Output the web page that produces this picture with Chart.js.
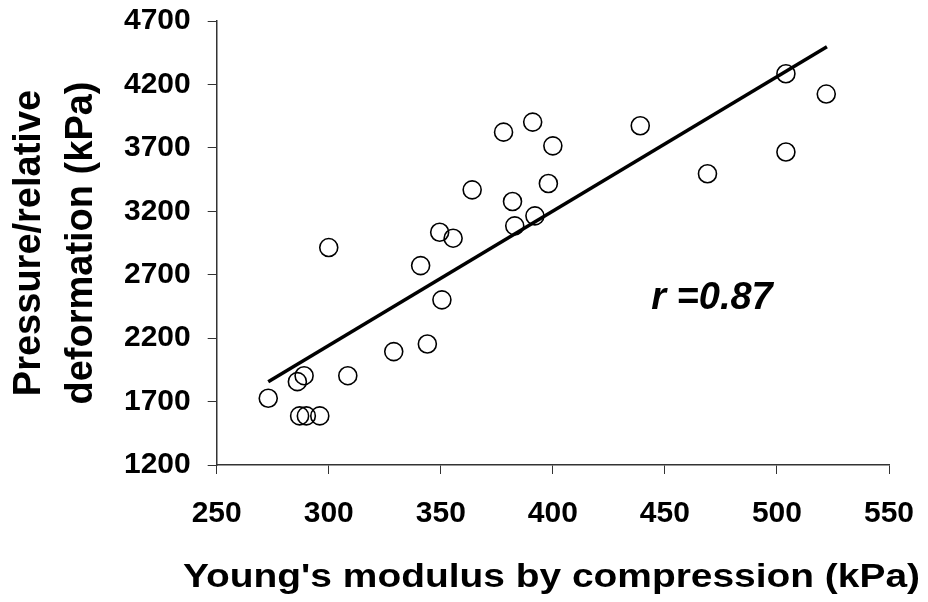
<!DOCTYPE html>
<html lang="en">

<head>
    <meta charset="UTF-8">
    <title>Young's modulus vs pressure/relative deformation</title>
    <script src="https://cdn.jsdelivr.net/npm/chart.js"></script>
    <style>
        html, body { margin: 0; padding: 0; background: #fff; }
        #wrap { width: 928px; height: 602px; }
    </style>
</head>

<body>
    <div id="wrap">
        <canvas id="scatterChart" width="928" height="602"></canvas>
    </div>

    <script>
        // --- data ---
        const youngModulus = [273, 286, 289, 287, 290, 296, 308.5, 300, 329, 344, 341, 350.5, 349.5, 355.5,
            364, 383, 392, 382, 378, 391, 400, 398, 439, 469, 504, 504, 522];
        const pressureDeform = [1726, 1857, 1904, 1587, 1587, 1587, 1904, 2914, 2094, 2154, 2772, 2502, 3035, 2988,
            3369, 3085, 3164, 3277, 3824, 3903, 3716, 3419, 3874, 3496, 3667, 4284, 4124];

        // fitted line end points
        const fitX = [273, 522.3];
        const fitY = [1857, 4497];

        const xTicks = [250, 300, 350, 400, 450, 500, 550];
        const yTicks = [1200, 1700, 2200, 2700, 3200, 3700, 4200, 4700];

        const xTitle = "Young's modulus by compression (kPa)";
        const yTitle = ['Pressure/relative', 'deformation (kPa)'];
        const rLabel = 'r =0.87';
        const rPos = { x: 471, y: 2509 };

        const FONT = "'Liberation Sans', Arial, sans-serif";

        const points = youngModulus.map((x, i) => ({ x: x, y: pressureDeform[i] }));
        const fitLine = fitX.map((x, i) => ({ x: x, y: fitY[i] }));

        // r value and the (horizontally stretched) x axis title
        const extraText = {
            id: 'extraText',
            afterDraw(chart) {
                const ctx = chart.ctx;
                const px = chart.scales.x.getPixelForValue(rPos.x);
                const py = chart.scales.y.getPixelForValue(rPos.y);
                ctx.save();
                ctx.font = `italic bold 38px ${FONT}`;
                ctx.fillStyle = '#000';
                ctx.textAlign = 'center';
                ctx.textBaseline = 'middle';
                ctx.fillText(rLabel, px, py);
                ctx.restore();

                ctx.save();
                ctx.font = `bold 33px ${FONT}`;
                ctx.fillStyle = '#000';
                ctx.textAlign = 'center';
                ctx.textBaseline = 'alphabetic';
                const w = ctx.measureText(xTitle).width;
                ctx.translate(551.5, 587);
                ctx.scale(737 / w, 1);
                ctx.fillText(xTitle, 0, 0);
                ctx.restore();
            }
        };

        new Chart(document.getElementById('scatterChart'), {
            type: 'scatter',
            data: {
                datasets: [{
                    type: 'line',
                    data: fitLine,
                    borderColor: '#000',
                    borderWidth: 3.5,
                    pointRadius: 0,
                    fill: false,
                    tension: 0
                }, {
                    data: points,
                    pointStyle: 'circle',
                    pointRadius: 9,
                    pointBorderWidth: 1.6,
                    borderColor: '#000',
                    backgroundColor: 'rgba(0,0,0,0)'
                }]
            },
            options: {
                responsive: false,
                animation: false,
                layout: { padding: { left: 0, right: 39, top: 21, bottom: 0 } },
                plugins: {
                    legend: { display: false },
                    tooltip: { enabled: false }
                },
                scales: {
                    x: {
                        type: 'linear',
                        min: 250,
                        max: 550,
                        afterBuildTicks: s => { s.ticks = xTicks.map(v => ({ value: v })); },
                        afterFit: s => { s.height = 137; s.paddingLeft = 0; s.paddingRight = 0; },
                        grid: { drawOnChartArea: false, drawTicks: true, tickLength: 9, tickColor: '#333' },
                        border: { display: true, color: '#333', width: 1.5 },
                        ticks: {
                            color: '#000',
                            padding: 22,
                            maxRotation: 0,
                            callback: v => String(v),
                            font: { family: FONT, size: 30, weight: 'bold' }
                        },
                        title: { display: false }
                    },
                    y: {
                        type: 'linear',
                        min: 1200,
                        max: 4700,
                        afterBuildTicks: s => { s.ticks = yTicks.map(v => ({ value: v })); },
                        afterFit: s => { s.width = 216.7; s.paddingTop = 0; s.paddingBottom = 0; },
                        grid: { drawOnChartArea: false, drawTicks: true, tickLength: 9, tickColor: '#333' },
                        border: { display: true, color: '#333', width: 1.5 },
                        ticks: {
                            color: '#000',
                            padding: 17,
                            callback: v => String(v),
                            font: { family: FONT, size: 30, weight: 'bold' }
                        },
                        title: {
                            display: true,
                            text: yTitle,
                            color: '#000',
                            padding: { top: 4, bottom: 0 },
                            font: { family: FONT, size: 38, weight: 'bold', lineHeight: 1.36 }
                        }
                    }
                }
            },
            plugins: [extraText]
        });
    </script>
</body>

</html>
